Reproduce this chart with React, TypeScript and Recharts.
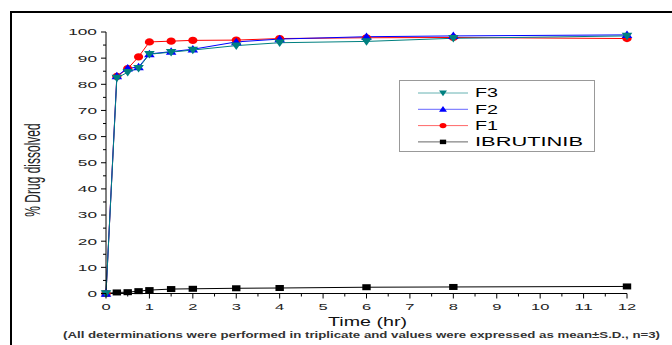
import { LineChart, Line, XAxis, YAxis, Legend } from "recharts"

const time = [0, 0.25, 0.5, 0.75, 1, 1.5, 2, 3, 4, 6, 8, 12]
const f1 = [0, 83.0, 86.0, 90.5, 96.2, 96.5, 96.8, 96.9, 97.5, 97.8, 97.9, 97.5]
const f2 = [0, 83.2, 86.1, 86.6, 91.6, 92.5, 93.4, 96.2, 97.3, 98.2, 98.5, 98.9]
const f3 = [0, 82.4, 84.6, 86.2, 91.5, 92.3, 93.1, 94.8, 95.9, 96.4, 97.6, 98.5]
const ibrutinib = [0, 0.4, 0.5, 0.9, 1.3, 1.7, 1.8, 2.0, 2.1, 2.4, 2.5, 2.7]

const xTicks = Array.from({ length: 25 }, (_, i) => i * 0.5)
const yTicks = Array.from({ length: 21 }, (_, i) => i * 5)

const data = time.map((t, i) => ({
  t,
  f1: f1[i],
  f2: f2[i],
  f3: f3[i],
  ibr: ibrutinib[i],
}))

const FONT = "'Liberation Sans', Arial, sans-serif"

// the original picture is stretched sideways, so text glyphs get stretched too
const SText = ({ x, y, w, size, anchor = "start", children, weight = "normal", fill = "#222" }) => {
  const start = anchor === "end" ? x - w : anchor === "middle" ? x - w / 2 : x
  return (
    <text
      x={start}
      y={y}
      textLength={w}
      lengthAdjust="spacingAndGlyphs"
      fontSize={size}
      fontFamily={FONT}
      fontWeight={weight}
      fill={fill}
    >
      {children}
    </text>
  )
}

const Marker = ({ shape, color, cx, cy, s = 1 }) => {
  if (shape === "circle") return <ellipse cx={cx} cy={cy} rx={4.6 * s} ry={3.6 * s} fill={color} />
  if (shape === "up")
    return <polygon points={`${cx},${cy - 4.3 * s} ${cx - 5.3 * s},${cy + 3.2 * s} ${cx + 5.3 * s},${cy + 3.2 * s}`} fill={color} />
  if (shape === "down")
    return <polygon points={`${cx - 5.3 * s},${cy - 3.2 * s} ${cx + 5.3 * s},${cy - 3.2 * s} ${cx},${cy + 4.3 * s}`} fill={color} />
  return <rect x={cx - 4.2 * s} y={cy - 3 * s} width={8.4 * s} height={6 * s} fill={color} />
}

const makeDot = (shape, color) => (p) => {
  if (p.cx == null || p.cy == null) return null
  return <Marker key={`${shape}-${p.index}`} shape={shape} color={color} cx={p.cx} cy={p.cy} />
}

const YTick = ({ x, y, payload }) => {
  const v = payload.value
  const major = v % 10 === 0
  const label = String(v)
  return (
    <g>
      <line x1={x} x2={x - (major ? 5 : 3)} y1={y} y2={y} stroke="#000" />
      {major && (
        <SText x={x - 9} y={y + 3.4} w={9.6 * label.length} size={9.5} anchor="end">
          {label}
        </SText>
      )}
    </g>
  )
}

const XTick = ({ x, y, payload }) => {
  const v = payload.value
  const major = v % 1 === 0
  const label = String(v)
  return (
    <g>
      <line x1={x} x2={x} y1={y} y2={y + (major ? 5 : 3)} stroke="#000" />
      {major && (
        <SText x={x} y={y + 16.5} w={9.2 * label.length} size={9.5} anchor="middle">
          {label}
        </SText>
      )}
    </g>
  )
}

const legendItems = [
  { name: "F3", shape: "down", color: "#008080", w: 23 },
  { name: "F2", shape: "up", color: "#0000ff", w: 23 },
  { name: "F1", shape: "circle", color: "#ff0000", w: 23 },
  { name: "IBRUTINIB", shape: "square", color: "#000000", w: 108 },
]

const LegendBox = () => (
  <svg width={197} height={73} style={{ display: "block" }}>
    <rect x={0.5} y={0.5} width={195} height={71} fill="#fff" stroke="#999" />
    {legendItems.map((it, i) => {
      const cy = 13 + i * 16.3
      return (
        <g key={it.name}>
          <line x1={19} x2={69} y1={cy} y2={cy} stroke={it.color} strokeOpacity={0.6} />
          <Marker shape={it.shape} color={it.color} cx={44} cy={cy} s={0.75} />
          <SText x={76} y={cy + 4.4} w={it.w} size={12} fill="#000">
            {it.name}
          </SText>
        </g>
      )
    })}
  </svg>
)

export default function App() {
  return (
    <div style={{ position: "absolute", left: 0, top: 0, width: 672, height: 345, background: "#fff" }}>
      <LineChart
        width={672}
        height={345}
        data={data}
        margin={{ top: 32, right: 45, left: 46, bottom: 21.5 }}
      >
        <XAxis
          dataKey="t"
          type="number"
          domain={[0, 12]}
          ticks={xTicks}
          interval={0}
          height={30}
          tickSize={0}
          tickMargin={0}
          tick={<XTick />}
          axisLine={{ stroke: "#000" }}
          tickLine={false}
        />
        <YAxis
          type="number"
          domain={[0, 100]}
          ticks={yTicks}
          interval={0}
          width={60}
          tickSize={0}
          tickMargin={0}
          tick={<YTick />}
          axisLine={{ stroke: "#000" }}
          tickLine={false}
        />
        <Legend
          layout="vertical"
          align="center"
          verticalAlign="middle"
          content={<LegendBox />}
          wrapperStyle={{ position: "absolute", left: 399, top: 80, width: 197, height: 73 }}
        />
        <Line dataKey="ibr" name="IBRUTINIB" stroke="#000" strokeWidth={1} dot={makeDot("square", "#000")} isAnimationActive={false} />
        <Line dataKey="f1" name="F1" stroke="#ff0000" strokeWidth={1} dot={makeDot("circle", "#ff0000")} isAnimationActive={false} />
        <Line dataKey="f2" name="F2" stroke="#0000ff" strokeWidth={1} dot={makeDot("up", "#0000ff")} isAnimationActive={false} />
        <Line dataKey="f3" name="F3" stroke="#008080" strokeWidth={1} dot={makeDot("down", "#008080")} isAnimationActive={false} />
      </LineChart>
      <svg
        width={672}
        height={345}
        style={{ position: "absolute", left: 0, top: 0, pointerEvents: "none" }}
      >
        <line x1={11} x2={11} y1={11} y2={345} stroke="#000" strokeWidth={2} />
        <line x1={10} x2={672} y1={12} y2={12} stroke="#000" strokeWidth={2} />
        <text
          transform="translate(40,170) scale(1.9,1) rotate(-90)"
          textAnchor="middle"
          fontSize={12}
          fontFamily={FONT}
          fill="#222"
        >
          % Drug dissolved
        </text>
        <SText x={328} y={325.5} w={79} size={12.5} fill="#111">
          Time (hr)
        </SText>
        <SText x={63} y={337.5} w={597} size={8.8} weight="bold" fill="#333">
          (All determinations were performed in triplicate and values were expressed as mean±S.D., n=3)
        </SText>
      </svg>
    </div>
  )
}
